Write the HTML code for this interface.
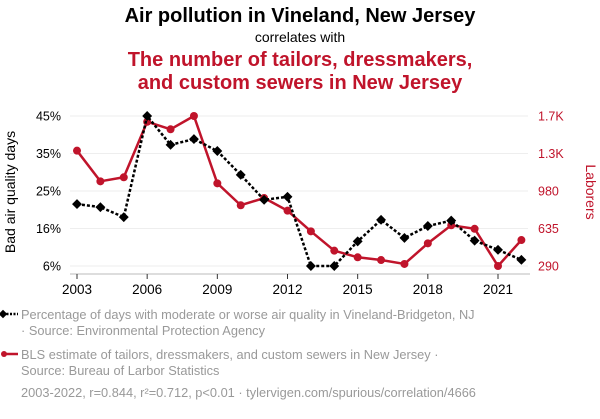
<!DOCTYPE html>
<html><head><meta charset="utf-8">
<style>
body{margin:0;width:600px;height:414px;background:#fff;font-family:"Liberation Sans",sans-serif;overflow:hidden}
svg text{font-family:"Liberation Sans",sans-serif}
</style></head>
<body>
<svg id="c" width="600" height="414">
<text x="300" y="22" text-anchor="middle" font-size="20" font-weight="bold" fill="#000">Air pollution in Vineland, New Jersey</text>
<text x="300" y="42" text-anchor="middle" font-size="14" fill="#000">correlates with</text>
<text x="300" y="66" text-anchor="middle" font-size="20" font-weight="bold" fill="#c0142b">The number of tailors, dressmakers,</text>
<text x="300" y="89" text-anchor="middle" font-size="20" font-weight="bold" fill="#c0142b">and custom sewers in New Jersey</text>
<text transform="translate(15,192) rotate(-90)" text-anchor="middle" font-size="14" fill="#000">Bad air quality days</text>
<text transform="translate(586,192) rotate(90)" text-anchor="middle" font-size="14" fill="#c0142b">Laborers</text>
<g id="grid"></g><g id="axes"></g><g id="series"></g>
<g>
<line x1="3" y1="314" x2="18" y2="314" stroke="#000" stroke-width="2.5" stroke-dasharray="2,1.5"/>
<rect x="0" y="311" width="6" height="6" transform="rotate(45 3 314)" fill="#000"/>
<text x="21" y="319" font-size="12.8" fill="#999">Percentage of days with moderate or worse air quality in Vineland-Bridgeton, NJ</text>
<text x="21" y="335" font-size="12.8" fill="#999">· Source: Environmental Protection Agency</text>
</g>
<g>
<line x1="3" y1="354" x2="18" y2="354" stroke="#c0142b" stroke-width="2.5"/>
<circle cx="4" cy="354" r="3" fill="#c0142b"/>
<text x="21" y="359" font-size="12.8" fill="#999">BLS estimate of tailors, dressmakers, and custom sewers in New Jersey ·</text>
<text x="21" y="375" font-size="12.8" fill="#999">Source: Bureau of Larbor Statistics</text>
</g>
<text x="21" y="397" font-size="12.8" fill="#999">2003-2022, r=0.844, r²=0.712, p&lt;0.01 · tylervigen.com/spurious/correlation/4666</text>
</svg>
<script>
const years=[2003,2004,2005,2006,2007,2008,2009,2010,2011,2012,2013,2014,2015,2016,2017,2018,2019,2020,2021,2022];
const airValues=[22.1,21.3,18.7,45,37.5,39,35.9,29.7,23.2,24,6,6,12.4,18,13.3,16.4,17.8,12.6,10.2,7.6];
const laborValues=[1374,1086,1124,1646,1575,1700,1067,861,929,810,616,434,372,346,309,503,673,640,290,534];
const leftTicks=[6,15.75,25.5,35.25,45];
const leftTickLabels=["6%","16%","25%","35%","45%"];
const rightTicks=[290,642.5,995,1347.5,1700];
const rightTickLabels=["290","635","980","1.3K","1.7K"];
const xTicks=[2003,2006,2009,2012,2015,2018,2021];
const NS="http://www.w3.org/2000/svg";
const x=v=>77+(v-2003)*(498-77)/18;
const yL=v=>266-(v-6)/(45-6)*150;
const yR=v=>266-(v-290)/(1700-290)*150;
function mk(p,t,a){const e=document.createElementNS(NS,t);for(const k in a)e.setAttribute(k,a[k]);document.getElementById(p).appendChild(e);return e;}
leftTicks.forEach((t,i)=>{
 const g=mk('grid','line',{x1:70,x2:528,y1:yL(t),y2:yL(t),stroke:'#eee','stroke-width':1});
 
 
 const l=mk('axes','text',{x:61,y:yL(t)+4.5,'text-anchor':'end','font-size':12.5,fill:'#000'});l.textContent=leftTickLabels[i];
 
 
});
rightTicks.forEach((t,i)=>{
 const l=mk('axes','text',{x:538,y:yR(t)+4.5,'font-size':12.5,fill:'#c0142b'});l.textContent=rightTickLabels[i];
 
 
});
mk('axes','line',{x1:70,x2:530,y1:274,y2:274,stroke:'#bbb'});
xTicks.forEach(t=>{
 mk('axes','line',{x1:x(t),x2:x(t),y1:274,y2:279,stroke:'#333'});
 const l=mk('axes','text',{x:x(t),y:294,'text-anchor':'middle','font-size':13.5,fill:'#000'});l.textContent=t;
 
 
});
const rp=mk('series','polyline',{points:years.map((yr,i)=>x(yr)+','+yR(laborValues[i])).join(' '),fill:'none',stroke:'#c0142b','stroke-width':2.5});


years.forEach((yr,i)=>{const c=mk('series','circle',{cx:x(yr),cy:yR(laborValues[i]),r:4,fill:'#c0142b'});
 
 });
const bp=mk('series','polyline',{points:years.map((yr,i)=>x(yr)+','+yL(airValues[i])).join(' '),fill:'none',stroke:'#000','stroke-width':2.5,'stroke-dasharray':'3,2'});


years.forEach((yr,i)=>{const px=x(yr),py=yL(airValues[i]);const r=mk('series','rect',{x:px-3.5,y:py-3.5,width:7,height:7,fill:'#000',transform:`rotate(45 ${px} ${py})`});
 
 });
</script>
</body></html>
